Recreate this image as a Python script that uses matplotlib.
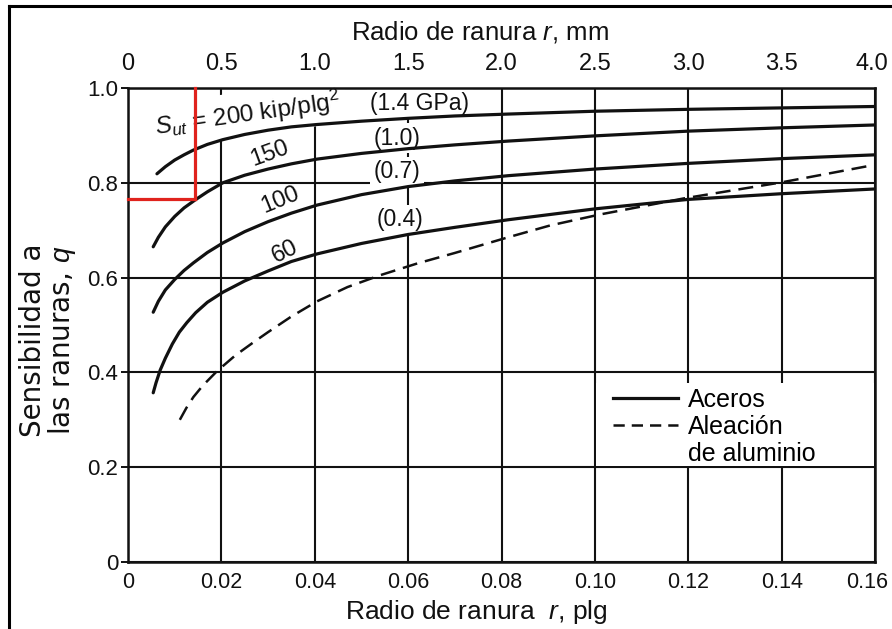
import matplotlib
matplotlib.use("Agg")
import matplotlib.pyplot as plt
import matplotlib.transforms as mtransforms
from matplotlib.lines import Line2D
from matplotlib.patches import Rectangle

plt.rcParams['font.family'] = ['Liberation Sans', 'DejaVu Sans']
plt.rcParams['mathtext.fontset'] = 'custom'
plt.rcParams['mathtext.rm'] = 'Liberation Sans'
plt.rcParams['mathtext.it'] = 'Liberation Sans:italic'
plt.rcParams['mathtext.bf'] = 'Liberation Sans:bold'

# Notch sensitivity q versus notch radius r (in) for steels of several
# ultimate strengths and for aluminium alloys.
r_200 = [0.0062, 0.008, 0.010, 0.012, 0.014, 0.017, 0.0203, 0.025, 0.030, 0.035, 0.0405,
         0.050, 0.060, 0.070, 0.0814, 0.100, 0.120, 0.140, 0.160]
q_200 = [0.819, 0.834, 0.848, 0.859, 0.869, 0.881, 0.891, 0.902, 0.911, 0.918, 0.923,
         0.930, 0.936, 0.941, 0.945, 0.951, 0.955, 0.958, 0.961]

r_150 = [0.0054, 0.0065, 0.008, 0.010, 0.012, 0.0144, 0.017, 0.0203, 0.025, 0.030, 0.035,
         0.0405, 0.050, 0.060, 0.070, 0.0814, 0.100, 0.120, 0.140, 0.160]
q_150 = [0.665, 0.685, 0.707, 0.729, 0.747, 0.764, 0.781, 0.800, 0.816, 0.829, 0.840,
         0.850, 0.862, 0.872, 0.880, 0.888, 0.899, 0.909, 0.916, 0.922]

r_100 = [0.0054, 0.0065, 0.008, 0.010, 0.012, 0.014, 0.017, 0.0203, 0.025, 0.030, 0.035,
         0.0405, 0.050, 0.060, 0.070, 0.0814, 0.100, 0.120, 0.140, 0.160]
q_100 = [0.527, 0.550, 0.574, 0.596, 0.615, 0.631, 0.653, 0.673, 0.697, 0.718, 0.736,
         0.753, 0.775, 0.792, 0.804, 0.815, 0.829, 0.841, 0.851, 0.859]

r_60 = [0.0054, 0.0060, 0.0069, 0.008, 0.0095, 0.011, 0.0126, 0.0145, 0.017, 0.0203, 0.025,
        0.030, 0.035, 0.0405, 0.050, 0.060, 0.070, 0.0814, 0.100, 0.120, 0.140, 0.160]
q_60 = [0.357, 0.378, 0.405, 0.430, 0.460, 0.485, 0.505, 0.526, 0.548, 0.569, 0.593,
        0.614, 0.634, 0.650, 0.672, 0.691, 0.706, 0.722, 0.745, 0.765, 0.777, 0.787]

r_al = [0.0111, 0.0125, 0.014, 0.016, 0.0191, 0.023, 0.0268, 0.030, 0.035, 0.0405, 0.047,
        0.054, 0.062, 0.070, 0.0814, 0.0904, 0.101, 0.119, 0.140, 0.160]
q_al = [0.300, 0.325, 0.348, 0.372, 0.403, 0.436, 0.463, 0.485, 0.518, 0.550, 0.580,
        0.605, 0.630, 0.652, 0.685, 0.710, 0.733, 0.767, 0.801, 0.838]

steel_curves = [(r_200, q_200), (r_150, q_150), (r_100, q_100), (r_60, q_60)]

# strength labels along the curves (kpsi) and their GPa equivalents
kpsi_labels = ['150', '100', '60']
gpa_labels = ['(1.4 GPa)', '(1.0)', '(0.7)', '(0.4)']

# reading marked for r = 0.0144 in
r_read = 0.0144
q_read = 0.765

x_ticks_in = [0, 0.02, 0.04, 0.06, 0.08, 0.10, 0.12, 0.14, 0.16]
x_ticklabels_in = ['0', '0.02', '0.04', '0.06', '0.08', '0.10', '0.12', '0.14', '0.16']
x_ticks_mm = [0, 0.5, 1.0, 1.5, 2.0, 2.5, 3.0, 3.5, 4.0]
x_ticklabels_mm = ['0', '0.5', '1.0', '1.5', '2.0', '2.5', '3.0', '3.5', '4.0']
y_ticks = [0, 0.2, 0.4, 0.6, 0.8, 1.0]
y_ticklabels = ['0', '0.2', '0.4', '0.6', '0.8', '1.0']

fig = plt.figure(figsize=(8.92, 6.29), dpi=100)
ax = fig.add_axes([0.1435, 0.1065, 0.8375, 0.7536])
ax.set_xlim(0, 0.16)
ax.set_ylim(0, 1.0)

ink = '#111111'
ax.set_xticks(x_ticks_in)
ax.set_xticklabels(x_ticklabels_in)
ax.set_yticks(y_ticks)
ax.set_yticklabels(y_ticklabels)
ax.tick_params(axis='x', length=0, pad=7, labelsize=15.5, colors=ink)
ax.tick_params(axis='y', length=5, width=1.4, pad=2, labelsize=16, colors=ink)
ax.set_axisbelow(True)
ax.grid(True, color=ink, linewidth=1.5)
for s in ax.spines.values():
    s.set_linewidth(1.8)
    s.set_color(ink)
    s.set_zorder(5)

# blank area behind the key
ax.add_patch(Rectangle((0.1003, 0.2025), 0.0595, 0.1755, facecolor='white',
                       edgecolor='none', zorder=1))

lw_curve = 2.3
for r, q in steel_curves:
    ax.plot(r, q, color=ink, linewidth=lw_curve, solid_capstyle='round', zorder=4)
ax.plot(r_al, q_al, color=ink, linewidth=1.8, linestyle=(0, (6, 3.2)), zorder=4)

# curve annotations
box = dict(facecolor='white', edgecolor='none', pad=2.5)
ax.text(0.0255, 0.946, r'$S_{ut}$ = 200 kip/plg$^2$', fontsize=17.5, rotation=8,
        ha='center', va='center', color=ink,
        bbox=dict(facecolor='white', edgecolor='none', pad=5),
        zorder=3, rotation_mode='anchor')
gpa_pos = [(0.0625, 0.968), (0.0576, 0.894), (0.0576, 0.823), (0.0583, 0.722)]
for lab, (x, y) in zip(gpa_labels, gpa_pos):
    ax.text(x, y, lab, fontsize=16.5, ha='center', va='center', color=ink,
            bbox=box, zorder=3)
kpsi_pos = [(0.0304, 0.861, 20), (0.0326, 0.764, 22), (0.0336, 0.654, 26)]
for lab, (x, y, rot) in zip(kpsi_labels, kpsi_pos):
    ax.text(x, y, lab, fontsize=17, ha='center', va='center', rotation=rot,
            color=ink, zorder=3, rotation_mode='anchor')

# marked reading
red = '#e0231d'
ax.plot([r_read, r_read], [q_read, 1.0], color=red, linewidth=2.3, zorder=6, clip_on=False)
ax.plot([0, r_read], [q_read, q_read], color=red, linewidth=2.3, zorder=6, clip_on=False)

# key
handles = [Line2D([], [], color=ink, linewidth=lw_curve),
           Line2D([], [], color=ink, linewidth=1.8, linestyle=(0, (4.5, 2.8))),
           Line2D([], [], linestyle='none')]
ax.legend(handles, ['Aceros', 'Aleación', 'de aluminio'], loc='upper left',
          bbox_to_anchor=(0.649, 0.368), frameon=False, fontsize=18,
          handlelength=2.6, handletextpad=0.4, labelspacing=0.12, borderpad=0,
          borderaxespad=0)

ax.set_xlabel('Radio de ranura  $r$, plg', fontsize=19, color=ink)
ax.xaxis.set_label_coords(0.466, -0.076)
fig.text(0.0545, 0.4595, 'Sensibilidad a\nlas ranuras, $q$', rotation=90,
         ha='center', va='center', multialignment='center', fontsize=20,
         family='DejaVu Sans', color=ink, linespacing=0.95)

secax = ax.secondary_xaxis('top', functions=(lambda x: x * 25.0, lambda m: m / 25.0))
secax.set_xticks(x_ticks_mm)
secax.set_xticklabels(x_ticklabels_mm)
secax.tick_params(length=0, pad=9, labelsize=17, colors=ink)
secax.spines['top'].set_visible(False)
fig.text(0.538, 0.949, 'Radio de ranura $r$, mm', fontsize=18.5, color=ink,
         ha='center', va='center')

# keep the outermost tick labels inside the page
fig.canvas.draw()
shift_bottom = mtransforms.ScaledTranslation(-8 / 100, 0, fig.dpi_scale_trans)
shift_top = mtransforms.ScaledTranslation(-3 / 100, 0, fig.dpi_scale_trans)
last_bottom = ax.get_xticklabels()[-1]
last_bottom.set_transform(last_bottom.get_transform() + shift_bottom)
last_top = secax.get_xticklabels()[-1]
last_top.set_transform(last_top.get_transform() + shift_top)

# page frame on the top and left edges
fig.add_artist(Line2D([0.0101, 1.0], [0.990, 0.990], transform=fig.transFigure,
                      color='black', linewidth=2.2))
fig.add_artist(Line2D([0.0101, 0.0101], [0.0, 0.990], transform=fig.transFigure,
                      color='black', linewidth=2.2))

fig.savefig('out.png', dpi=100)
